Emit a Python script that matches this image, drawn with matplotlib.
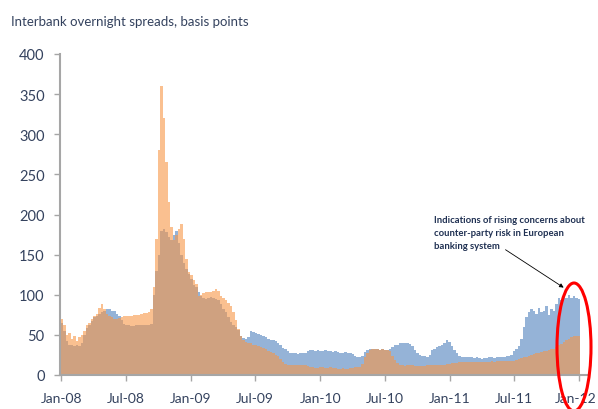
import matplotlib
matplotlib.use("Agg")
import matplotlib.pyplot as plt
import matplotlib.transforms as mtransforms
from matplotlib.patches import Ellipse
from matplotlib import font_manager
import numpy as np
import pandas as pd

# weekly observations, first week ending 4 Jan 2008
weeks = pd.date_range("2008-01-04", periods=209, freq="7D")

# blue series (basis points)
blue = [
    65, 55, 42, 38, 37, 36, 37, 36, 40, 50, 58, 62, 67, 72, 74, 76, 78, 80, 82, 82,
    80, 80, 76, 73, 68, 64, 62, 62, 61, 61, 62, 62, 62, 62, 62, 62, 63, 100, 130, 150,
    180, 182, 178, 172, 168, 175, 180, 165, 150, 140, 132, 126, 120, 112, 110, 104, 98, 96, 95, 96,
    97, 96, 95, 94, 88, 82, 78, 72, 66, 62, 60, 56, 48, 46, 45, 47, 55, 53, 52, 51,
    50, 48, 47, 45, 44, 43, 42, 40, 37, 34, 32, 30, 28, 27, 27, 26, 27, 27, 28, 30,
    31, 31, 30, 31, 30, 30, 31, 30, 30, 29, 30, 29, 28, 28, 29, 28, 27, 26, 24, 23,
    22, 24, 29, 31, 32, 32, 32, 32, 31, 32, 31, 31, 33, 35, 37, 38, 40, 40, 40, 40,
    39, 36, 31, 27, 25, 24, 24, 23, 25, 31, 33, 35, 36, 38, 40, 44, 41, 36, 31, 27,
    24, 23, 22, 23, 22, 22, 21, 22, 21, 20, 21, 21, 22, 22, 21, 22, 22, 23, 23, 24,
    24, 25, 30, 33, 36, 45, 60, 72, 78, 82, 80, 76, 84, 78, 80, 86, 75, 82, 80, 88,
    96, 94, 98, 96, 100, 96, 98, 96, 95,
]

# orange series (basis points)
orange = [
    70, 62, 50, 52, 45, 48, 42, 47, 50, 55, 62, 65, 70, 74, 76, 84, 88, 82, 76, 73,
    72, 70, 70, 71, 72, 73, 74, 74, 74, 75, 75, 75, 76, 77, 77, 78, 82, 110, 170, 280,
    360, 320, 265, 215, 185, 168, 175, 182, 188, 170, 145, 128, 124, 118, 114, 98, 100, 102, 103, 104,
    103, 105, 107, 105, 98, 96, 93, 90, 86, 78, 68, 57, 48, 43, 41, 40, 40, 38, 37, 36,
    35, 34, 33, 30, 29, 27, 25, 24, 20, 16, 14, 13, 12, 12, 12, 12, 12, 12, 12, 11,
    10, 10, 9, 9, 10, 10, 9, 9, 10, 9, 9, 8, 8, 9, 8, 8, 9, 9, 10, 10,
    10, 14, 22, 28, 31, 32, 32, 32, 31, 32, 31, 31, 30, 24, 19, 15, 12, 12, 11, 12,
    12, 12, 11, 11, 11, 11, 11, 12, 12, 12, 12, 12, 13, 13, 13, 14, 14, 15, 15, 15,
    16, 16, 16, 16, 16, 16, 16, 16, 16, 16, 16, 16, 16, 17, 16, 17, 17, 17, 17, 17,
    17, 18, 18, 19, 20, 21, 22, 23, 24, 25, 26, 27, 28, 29, 30, 30, 31, 32, 33, 35,
    37, 39, 41, 43, 45, 47, 48, 49, 49,
]

tick_dates = pd.to_datetime(["2008-01-01", "2008-07-01", "2009-01-01", "2009-07-01",
                             "2010-01-01", "2010-07-01", "2011-01-01", "2011-07-01",
                             "2012-01-01"])
tick_labels = ["Jan-08", "Jul-08", "Jan-09", "Jul-09", "Jan-10", "Jul-10",
               "Jan-11", "Jul-11", "Jan-12"]

title = "Interbank overnight spreads, basis points"
note = "Indications of rising concerns about\ncounter-party risk in European\nbanking system"

installed = {f.name for f in font_manager.fontManager.ttflist}
main_font = "Lato" if "Lato" in installed else "DejaVu Sans"

text_col = "#34425E"
axis_col = "#A6A6A6"

fig = plt.figure(figsize=(5.98, 4.10), dpi=100)
ax = fig.add_axes([60 / 598, 1 - 376 / 410, 528 / 598, 321 / 410])

ax.bar(weeks, blue, width=7, color="#95B3D7", edgecolor="none", linewidth=0)
ax.bar(weeks, orange, width=7, color="#F79646", alpha=0.6, edgecolor="none", linewidth=0)

ax.set_ylim(0, 400)
ax.set_xlim(pd.Timestamp("2007-12-29"), pd.Timestamp("2012-01-25"))
ax.set_yticks(range(0, 401, 50))
ax.set_xticks(tick_dates)
ax.set_xticklabels(tick_labels)

for s in ["top", "right"]:
    ax.spines[s].set_visible(False)
for s in ["left", "bottom"]:
    ax.spines[s].set_color(axis_col)
    ax.spines[s].set_linewidth(1.5)

ax.tick_params(axis="both", colors=axis_col, labelcolor=text_col, labelsize=10.5, length=4, width=1)
ax.tick_params(axis="x", pad=8, labelsize=10)
ax.tick_params(axis="y", pad=7)
for lab in ax.get_xticklabels() + ax.get_yticklabels():
    lab.set_fontfamily(main_font)

# last label sits at the right edge, nudge it in a little
last = ax.get_xticklabels()[-1]
last.set_transform(last.get_transform() + mtransforms.ScaledTranslation(-4 / 100, 0, fig.dpi_scale_trans))

fig.text(11 / 598, 1 - 22 / 410, title, fontsize=9.5, color=text_col,
         fontfamily=main_font, va="center", ha="left")

fig.text(434 / 598, 1 - 216 / 410, note, fontsize=6.8, color="#1F3052",
         fontfamily=main_font, fontweight="bold", va="top", ha="left", linespacing=1.6)

ax.annotate("", xy=(pd.Timestamp("2011-11-24"), 107), xytext=(pd.Timestamp("2011-05-31"), 158),
            arrowprops=dict(arrowstyle="-|>", color="black", lw=0.6, mutation_scale=6))

ell = Ellipse((574 / 598, 1 - 348 / 410), 34 / 598, 128 / 410, transform=fig.transFigure,
              fill=False, edgecolor="#FF0000", linewidth=2.2, clip_on=False)
fig.patches.append(ell)

fig.savefig("out.png", dpi=100)
